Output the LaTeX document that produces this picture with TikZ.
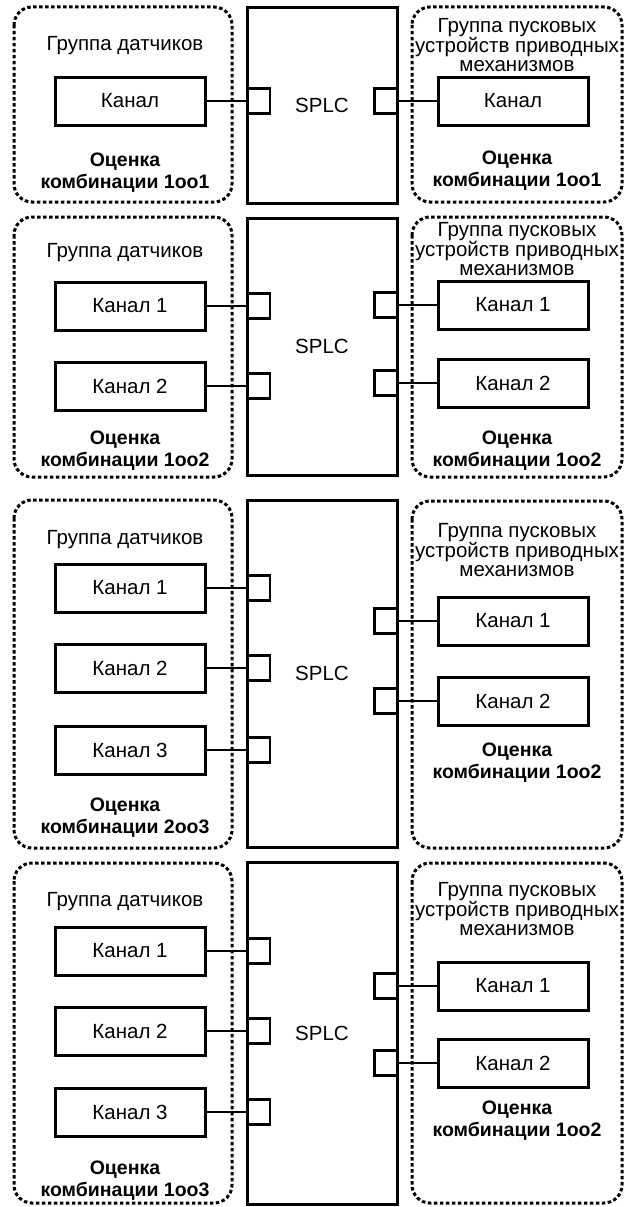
\documentclass[tikz,border=0pt]{standalone}
\usepackage{fontspec}
\setmainfont{Liberation Sans}
\usetikzlibrary{positioning, calc}

\begin{document}
\begin{tikzpicture}[x=1pt,y=-1pt,
	grp/.style={line width=3pt, dash pattern=on 3.5pt off 2.5pt, rounded corners=18pt},
	splcbox/.style={draw, line width=3pt, minimum width=150pt, inner sep=0pt, font=\fontsize{20.5}{19}\selectfont},
	chan/.style={draw, line width=3pt, minimum width=150pt, minimum height=48pt, inner sep=0pt, font=\fontsize{20.5}{19}\selectfont},
	port/.style={draw, line width=2.5pt, minimum width=23pt, minimum height=25pt, inner sep=0pt},
	wire/.style={line width=2pt},
	lbl/.style={align=center, inner sep=0pt, anchor=north, font=\fontsize{20.5}{19}\selectfont},
	res/.style={align=center, inner sep=0pt, anchor=north, font=\bfseries\fontsize{19.5}{22}\selectfont}]
	\useasboundingbox (0,0) rectangle (624,1207);

	% 1oo1 / 1oo1
	\draw[grp] (14,7) rectangle (232,202);
	\draw[grp] (412,7) rectangle (622,202);
	\node[splcbox, minimum height=195pt] (s1) at (322,105.5) {SPLC};
	\node[lbl] (sg1) at (125,36) {Группа датчиков};
	\node[lbl] (ag1) at (517,18) {Группа пусковых\\устройств приводных\\механизмов};
	\node[chan] (lc1) at (130,101) {Канал};
	\node[chan] (rc1) at (513,101) {Канал};
	\node[port, anchor=west] (lp1) at (s1.west |- lc1) {};
	\node[port, anchor=east] (rp1) at (s1.east |- rc1) {};
	\draw[wire] (lc1.east) -- (lp1.west);
	\draw[wire] (rc1.west) -- (rp1.east);
	\node[res] (sr1) at (125,153) {Оценка\\комбинации 1oo1};
	\node[res] (ar1) at (517,151) {Оценка\\комбинации 1oo1};

	% 1oo2 / 1oo2
	\draw[grp] (14,217) rectangle (232,477);
	\draw[grp] (412,217) rectangle (622,477);
	\node[splcbox, minimum height=257pt] (s2) at (322,346.5) {SPLC};
	\node[lbl] (sg2) at (125,243) {Группа датчиков};
	\node[lbl] (ag2) at (517,222) {Группа пусковых\\устройств приводных\\механизмов};
	\foreach \k/\ly/\ry in {1/306/305, 2/386/383}{
		\node[chan] (lc2\k) at (130,\ly) {Канал \k};
		\node[chan] (rc2\k) at (513,\ry) {Канал \k};
		\node[port, anchor=west] (lp2\k) at (s2.west |- lc2\k) {};
		\node[port, anchor=east] (rp2\k) at (s2.east |- rc2\k) {};
		\draw[wire] (lc2\k.east) -- (lp2\k.west);
		\draw[wire] (rc2\k.west) -- (rp2\k.east);
	}
	\node[res] (sr2) at (125,431) {Оценка\\комбинации 1oo2};
	\node[res] (ar2) at (517,431) {Оценка\\комбинации 1oo2};

	% 2oo3 / 1oo2
	\draw[grp] (14,500) rectangle (232,848);
	\draw[grp] (412,501) rectangle (622,848);
	\node[splcbox, minimum height=347pt] (s3) at (322,673.5) {SPLC};
	\node[lbl] (sg3) at (125,530) {Группа датчиков};
	\node[lbl] (ag3) at (517,523) {Группа пусковых\\устройств приводных\\механизмов};
	\foreach \k/\ly in {1/588, 2/668, 3/750}{
		\node[chan] (lc3\k) at (130,\ly) {Канал \k};
		\node[port, anchor=west] (lp3\k) at (s3.west |- lc3\k) {};
		\draw[wire] (lc3\k.east) -- (lp3\k.west);
	}
	\foreach \k/\ry in {1/621, 2/701}{
		\node[chan] (rc3\k) at (513,\ry) {Канал \k};
		\node[port, anchor=east] (rp3\k) at (s3.east |- rc3\k) {};
		\draw[wire] (rc3\k.west) -- (rp3\k.east);
	}
	\node[res] (sr3) at (125,798) {Оценка\\комбинации 2oo3};
	\node[res] (ar3) at (517,743) {Оценка\\комбинации 1oo2};

	% 1oo3 / 1oo2
	\draw[grp] (14,863) rectangle (232,1203);
	\draw[grp] (412,863) rectangle (622,1203);
	\node[splcbox, minimum height=342pt] (s4) at (322,1033) {SPLC};
	\node[lbl] (sg4) at (125,892) {Группа датчиков};
	\node[lbl] (ag4) at (517,882) {Группа пусковых\\устройств приводных\\механизмов};
	\foreach \k/\ly in {1/951, 2/1031, 3/1112}{
		\node[chan] (lc4\k) at (130,\ly) {Канал \k};
		\node[port, anchor=west] (lp4\k) at (s4.west |- lc4\k) {};
		\draw[wire] (lc4\k.east) -- (lp4\k.west);
	}
	\foreach \k/\ry in {1/986, 2/1063}{
		\node[chan] (rc4\k) at (513,\ry) {Канал \k};
		\node[port, anchor=east] (rp4\k) at (s4.east |- rc4\k) {};
		\draw[wire] (rc4\k.west) -- (rp4\k.east);
	}
	\node[res] (sr4) at (125,1161) {Оценка\\комбинации 1oo3};
	\node[res] (ar4) at (517,1101) {Оценка\\комбинации 1oo2};
\end{tikzpicture}
\end{document}
